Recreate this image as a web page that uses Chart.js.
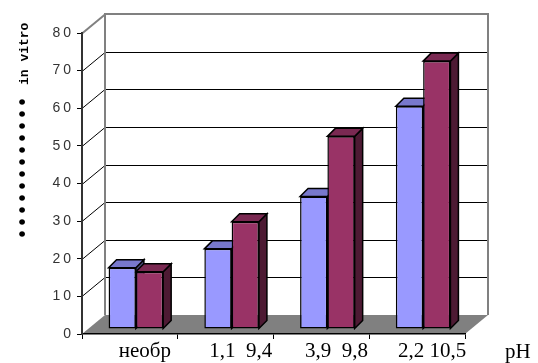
<!DOCTYPE html>
<html>
<head>
<meta charset="utf-8">
<script src="https://cdn.jsdelivr.net/npm/chart.js"></script>
<style>
  html, body { margin: 0; padding: 0; background: #fff; }
  canvas { display: block; }
</style>
</head>
<body>
<canvas id="chart" width="538" height="363"></canvas>
<script>
// categories along the bottom (treatment / pH pairs)
const categories = ["необр", "1,1  9,4", "3,9  9,8", "2,2 10,5"];
const seriesBlue = [16.3, 21.3, 35.2, 59.2];
const seriesRed = [15.2, 28.5, 51.2, 71.2];
const yMax = 80;
const yStep = 10;
const yTitle = "•••••••••••• in vitro";
const xUnit = "pH";

// oblique projection used for the fake 3D box
const wallShift = { x: 23, y: -19 };   // front plane -> back wall
const barShift = { x: 6, y: -5 };      // bars stand a bit behind the front plane
const barDepth = { x: 8, y: -8 };

const faceColors = [
  { top: "#7878CC", side: "#4C4C80" },
  { top: "#7A2952", side: "#4D1A33" }
];

function poly(ctx, pts, fill, stroke, lw) {
  ctx.beginPath();
  ctx.moveTo(pts[0][0], pts[0][1]);
  for (let i = 1; i < pts.length; i++) ctx.lineTo(pts[i][0], pts[i][1]);
  ctx.closePath();
  if (fill) { ctx.fillStyle = fill; ctx.fill(); }
  if (stroke) { ctx.strokeStyle = stroke; ctx.lineWidth = lw; ctx.stroke(); }
}

const boxPlugin = {
  id: "box3d",
  beforeDraw(chart) {
    const { ctx, chartArea: a, scales: { y } } = chart;
    const dx = wallShift.x, dy = wallShift.y;
    ctx.save();
    // floor
    poly(ctx, [[a.left, a.bottom], [a.right, a.bottom], [a.right + dx, a.bottom + dy], [a.left + dx, a.bottom + dy]], "#808080");
    // back wall grid + side wall diagonals
    ctx.lineWidth = 1;
    y.ticks.forEach(t => {
      const py = Math.round(y.getPixelForValue(t.value)) + 0.5;
      if (t.value > 0 && t.value < yMax) {
        ctx.strokeStyle = "#000";
        ctx.beginPath();
        ctx.moveTo(a.left + dx, py + dy);
        ctx.lineTo(a.right + dx, py + dy);
        ctx.stroke();
      }
      if (t.value > 0) {
        ctx.strokeStyle = t.value === yMax ? "#808080" : "#000";
        ctx.lineWidth = t.value === yMax ? 2 : 1;
        ctx.beginPath();
        ctx.moveTo(a.left, py);
        ctx.lineTo(a.left + dx, py + dy);
        ctx.stroke();
        ctx.lineWidth = 1;
      }
    });
    // back wall frame
    ctx.strokeStyle = "#808080";
    ctx.lineWidth = 2;
    ctx.beginPath();
    ctx.moveTo(a.left + dx, a.bottom + dy);
    ctx.lineTo(a.left + dx, a.top + dy);
    ctx.lineTo(a.right + dx, a.top + dy);
    ctx.lineTo(a.right + dx, a.bottom + dy);
    ctx.stroke();
    ctx.restore();
    // value labels are spaced out
    ctx.letterSpacing = "3px";
  },
  beforeDatasetsDraw(chart) {
    const ctx = chart.ctx;
    ctx.letterSpacing = "0px";
    ctx.save();
    ctx.translate(barShift.x, barShift.y);
    const metas = chart.data.datasets.map((d, i) => chart.getDatasetMeta(i));
    const n = chart.data.labels.length;
    for (let i = 0; i < n; i++) {
      metas.forEach((meta, d) => {
        const p = meta.data[i].getProps(["x", "y", "base", "width"], true);
        const xl = p.x - p.width / 2, xr = p.x + p.width / 2;
        const ex = barDepth.x, ey = barDepth.y;
        poly(ctx, [[xr, p.y], [xr + ex, p.y + ey], [xr + ex, p.base + ey], [xr, p.base]], faceColors[d].side, "#000", 1.5);
        poly(ctx, [[xl, p.y], [xr, p.y], [xr + ex, p.y + ey], [xl + ex, p.y + ey]], faceColors[d].top, "#000", 1.5);
      });
    }
  },
  afterDatasetsDraw(chart) {
    chart.ctx.restore();
  },
  afterDraw(chart) {
    const ctx = chart.ctx;
    ctx.save();
    ctx.fillStyle = "#000";
    ctx.textAlign = "left";
    ctx.textBaseline = "alphabetic";
    // unit at the end of the category axis
    ctx.font = '21px "Liberation Serif"';
    ctx.fillText(xUnit, 505, 358);
    // rotated axis title: big bullets, then the latin words
    const cut = yTitle.indexOf(" ");
    const marks = yTitle.slice(0, cut);
    const words = yTitle.slice(cut + 1);
    ctx.translate(0, 240);
    ctx.rotate(-Math.PI / 2);
    ctx.font = 'bold 20px "Liberation Mono"';
    ctx.fillText(marks, 0, 29);
    ctx.font = 'bold 13px "Liberation Mono"';
    ctx.fillText(words, 155, 28);
    ctx.restore();
  }
};

new Chart(document.getElementById("chart"), {
  type: "bar",
  data: {
    labels: categories,
    datasets: [
      {
        data: seriesBlue,
        backgroundColor: "#9999FF",
        borderColor: "#000",
        borderWidth: 1.5,
        borderSkipped: false
      },
      {
        data: seriesRed,
        backgroundColor: "#993366",
        borderColor: "#000",
        borderWidth: 1.5,
        borderSkipped: false
      }
    ]
  },
  options: {
    responsive: false,
    animation: false,
    devicePixelRatio: 1,
    categoryPercentage: 0.57,
    barPercentage: 1.0,
    layout: { padding: { left: 0, right: 73, top: 33, bottom: 0 } },
    plugins: {
      legend: { display: false },
      tooltip: { enabled: false }
    },
    scales: {
      x: {
        afterFit(s) { s.height = 29; },
        grid: {
          offset: true,
          drawOnChartArea: false,
          drawTicks: true,
          tickLength: 5,
          color: "#000"
        },
        border: { display: true, color: "#000", width: 1.5 },
        ticks: {
          z: 1,
          color: "#000",
          padding: 0,
          labelOffset: 15,
          maxRotation: 0,
          autoSkip: false,
          font: { family: "Liberation Serif", size: 21 }
        }
      },
      y: {
        min: 0,
        max: yMax,
        afterFit(s) { s.width = 82; },
        grid: {
          drawOnChartArea: false,
          drawTicks: true,
          tickLength: 5,
          color: "#000"
        },
        border: { display: true, color: "#333", width: 2 },
        ticks: {
          stepSize: yStep,
          color: "#333",
          padding: 3,
          font: { family: "Liberation Sans", size: 14 }
        }
      }
    }
  },
  plugins: [boxPlugin]
});
</script>
</body>
</html>
